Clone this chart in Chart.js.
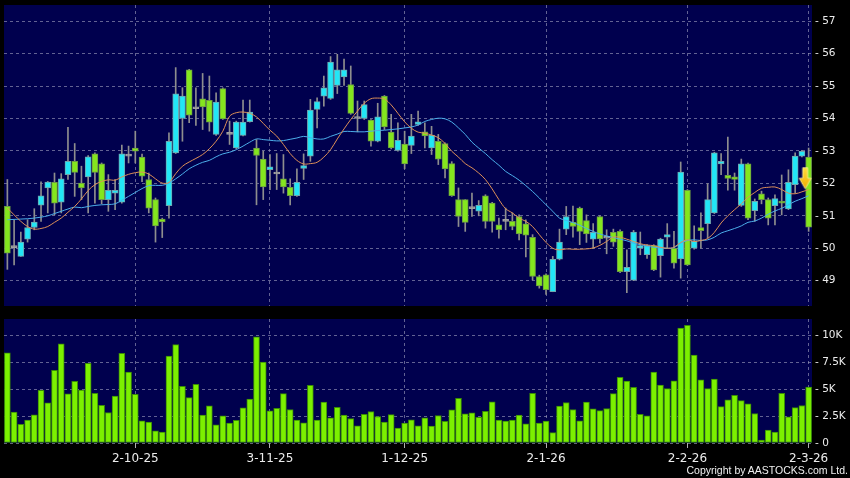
<!DOCTYPE html>
<html>
<head>
<meta charset="utf-8">
<script src="https://cdn.jsdelivr.net/npm/chart.js@4.4.1/dist/chart.umd.min.js"></script>
<style>
  html, body { margin: 0; padding: 0; background: #000; }
  #wrap { position: relative; width: 850px; height: 478px; overflow: hidden; }
  #price { position: absolute; left: 0; top: 0; }
  #volume { position: absolute; left: 0; top: 310px; }
  #copy { position: absolute; right: 2px; top: 464px; color: #f0f0f0;
          font: 10.5px "Liberation Sans", Arial, sans-serif; }
</style>
</head>
<body>
<div id="wrap">
  <canvas id="price" width="850" height="310"></canvas>
  <canvas id="volume" width="850" height="168"></canvas>
  <div id="copy">Copyright by AASTOCKS.com Ltd.</div>
</div>
<script>
// date ticks (bar index -> label)
const tickIndex = [19, 39, 59, 80, 101, 119];
const tickText = ["2-10-25", "3-11-25", "1-12-25", "2-1-26", "2-2-26", "2-3-26"];

const open = [51.29,50.02,49.75,50.28,50.64,51.33,51.86,52.03,51.42,52.27,
  52.68,52.01,52.20,52.91,52.60,51.50,51.70,51.42,52.84,53.09,
  52.81,52.12,51.50,50.90,51.31,52.94,54.00,55.50,54.30,54.61,
  54.56,53.51,54.92,53.51,53.09,53.48,53.90,53.09,52.75,52.42,
  52.29,52.14,51.88,51.62,52.46,52.84,54.28,54.69,54.62,55.02,
  55.28,55.05,54.00,54.00,53.95,53.30,54.69,53.58,53.02,53.21,
  53.17,53.82,53.59,53.09,53.30,53.23,52.61,51.50,51.50,51.22,
  51.14,51.62,51.39,50.72,50.83,50.83,50.98,50.75,50.34,49.13,
  49.18,48.66,49.66,50.59,50.80,51.24,50.85,50.28,50.98,50.31,
  50.49,50.52,49.28,49.02,50.00,49.80,50.08,49.77,50.34,50.00,
  49.67,51.79,50.00,50.64,50.76,51.09,52.60,52.25,52.20,51.32,
  52.60,51.16,51.68,51.50,51.31,51.45,51.21,51.96,52.84,52.81];
const high = [52.12,50.88,50.50,50.88,51.22,52.05,52.06,52.32,52.30,53.73,
  53.23,52.53,52.86,52.94,52.63,52.27,52.12,53.18,53.15,53.61,
  52.90,52.32,51.55,50.93,53.56,55.57,54.95,55.52,54.95,55.39,
  55.31,54.79,54.95,53.92,53.92,54.57,54.57,53.35,52.99,52.89,
  52.92,52.89,52.14,52.45,52.91,54.59,54.64,55.31,55.91,55.98,
  55.83,55.62,54.54,54.54,53.97,54.47,54.71,54.13,53.87,53.61,
  54.13,54.23,53.87,53.76,53.51,53.25,52.67,51.86,51.50,51.70,
  51.47,51.65,51.42,50.93,51.24,51.09,51.03,50.88,50.42,49.17,
  49.21,49.75,50.59,51.29,51.30,51.27,51.03,50.76,51.00,50.57,
  50.59,50.57,49.95,50.55,50.50,50.11,50.11,50.31,50.76,50.52,
  52.66,51.81,50.69,51.09,51.99,52.96,52.92,53.43,52.32,52.75,
  52.63,51.52,51.76,51.55,51.65,52.26,52.42,52.94,53.02,53.09];
const low = [49.35,49.49,49.75,50.19,50.57,50.83,51.09,51.03,51.09,52.12,
  51.60,51.50,51.09,51.39,51.37,51.14,51.19,51.39,52.63,52.63,
  52.05,51.09,50.19,50.33,50.93,52.92,53.30,53.87,53.79,53.66,
  53.61,53.48,53.97,53.20,53.07,53.46,53.89,51.34,51.50,51.81,
  51.81,51.70,51.34,51.60,52.12,52.68,53.71,54.38,54.59,54.77,
  55.02,54.13,53.59,53.97,53.15,53.28,53.66,53.06,52.99,52.45,
  52.92,53.79,53.09,52.89,52.58,52.17,51.60,50.67,50.52,50.98,
  51.00,50.62,50.50,50.31,50.57,50.57,50.26,49.73,49.02,48.77,
  48.58,48.66,49.64,50.42,50.34,50.11,50.18,50.00,50.16,49.83,
  50.06,49.25,48.63,49.00,49.80,49.69,49.31,49.11,50.00,49.39,
  49.08,49.47,49.97,50.00,50.31,51.07,52.27,51.79,51.79,51.29,
  50.88,50.83,51.37,50.72,50.72,51.03,51.19,51.70,52.82,50.52];
const close = [49.85,50.02,50.19,50.64,50.81,51.62,52.04,51.39,52.14,52.68,
  52.34,51.86,52.82,52.34,51.50,51.79,51.79,52.91,52.84,52.99,
  52.22,51.24,50.69,50.81,53.30,54.76,54.69,54.10,54.30,54.36,
  53.89,54.51,53.99,53.51,53.89,53.89,54.20,52.86,51.89,52.51,
  52.29,51.89,51.62,52.03,52.55,54.26,54.52,54.95,55.74,55.50,
  55.50,54.16,54.00,54.43,53.30,54.05,53.74,53.09,53.33,52.60,
  53.46,53.90,53.46,53.49,52.75,52.45,51.62,50.98,50.80,51.22,
  51.32,50.83,50.83,50.57,50.83,50.67,50.44,50.40,49.13,48.84,
  48.72,49.66,50.19,50.98,50.67,50.52,50.44,50.49,50.29,50.31,
  50.19,49.28,49.41,50.50,50.08,50.08,49.33,50.28,50.42,49.54,
  52.35,49.49,50.21,50.54,51.50,52.94,52.68,52.15,52.12,52.60,
  50.93,51.45,51.50,50.93,51.53,51.39,52.03,52.84,52.99,50.65];

// moving averages as drawn on the chart (orange short, blue long)
const maShort = [51.24,51.03,50.83,50.67,50.59,50.61,50.67,50.80,50.93,51.11,
  51.29,51.52,51.78,51.96,52.06,52.11,52.10,52.20,52.28,52.33,
  52.35,52.29,52.14,52.01,52.03,52.30,52.53,52.66,52.77,52.89,
  53.07,53.30,53.61,54.07,54.18,54.20,54.16,54.05,53.85,53.64,
  53.46,53.20,52.92,52.71,52.60,52.61,52.65,52.81,53.04,53.37,
  53.68,53.97,54.23,54.47,54.61,54.63,54.60,54.42,54.16,53.90,
  53.70,53.58,53.55,53.49,53.41,53.23,52.99,52.81,52.61,52.48,
  52.32,52.12,51.83,51.50,51.22,51.09,50.93,50.83,50.67,50.42,
  50.18,50.00,49.95,49.98,49.97,49.97,49.98,50.01,50.09,50.21,
  50.34,50.34,50.28,50.21,50.14,50.10,50.08,50.03,50.00,50.03,
  50.18,50.26,50.21,50.24,50.30,50.49,50.78,51.00,51.19,51.37,
  51.57,51.72,51.85,51.88,51.89,51.81,51.70,51.68,51.74,51.81];
const maLong = [50.88,50.89,50.90,50.91,50.93,50.96,51.00,51.07,51.14,51.21,
  51.27,51.25,51.29,51.32,51.34,51.35,51.37,51.48,51.60,51.72,
  51.84,51.93,51.94,51.94,52.01,52.14,52.29,52.45,52.56,52.65,
  52.71,52.82,52.91,52.96,53.04,53.15,53.27,53.37,53.35,53.33,
  53.31,53.32,53.36,53.40,53.45,53.41,53.37,53.37,53.45,53.52,
  53.60,53.60,53.59,53.59,53.61,53.63,53.64,53.66,53.68,53.71,
  53.74,53.80,53.91,53.97,54.01,53.99,53.89,53.71,53.51,53.27,
  53.09,52.92,52.73,52.56,52.37,52.24,52.10,51.93,51.75,51.55,
  51.34,51.14,50.93,50.86,50.79,50.71,50.61,50.52,50.44,50.38,
  50.33,50.28,50.23,50.16,50.11,50.07,50.03,50.01,50.00,50.02,
  50.16,50.24,50.26,50.24,50.26,50.34,50.47,50.54,50.61,50.69,
  50.80,50.84,50.93,51.05,51.15,51.23,51.34,51.45,51.53,51.62];

// volume in thousands
const volume = [8.39,2.87,1.73,2.13,2.62,4.91,3.73,6.76,9.23,4.57,
  5.74,4.94,7.41,4.63,3.52,2.84,4.38,8.36,6.60,4.54,
  2.07,1.94,1.14,1.02,8.09,9.17,5.28,4.23,5.46,2.59,
  3.46,1.70,2.53,1.85,2.10,3.27,4.10,9.88,7.53,2.99,
  3.24,4.60,3.12,2.13,1.88,5.37,2.13,3.80,2.35,3.33,
  2.59,2.28,1.60,2.68,2.93,2.47,1.94,2.65,1.39,1.85,
  2.16,1.60,2.35,1.57,2.56,2.01,3.09,4.17,2.72,2.81,
  2.38,2.96,3.83,2.13,2.04,2.13,2.59,1.79,4.63,1.85,
  2.04,0.96,3.43,3.77,3.12,2.07,3.80,3.18,3.02,3.21,
  4.60,6.11,5.77,5.18,2.68,2.53,6.60,5.40,5.06,5.80,
  10.71,10.96,8.18,5.89,5.06,5.96,3.39,4.01,4.44,3.95,
  3.64,2.75,0.28,1.20,1.02,4.63,2.44,3.30,3.49,5.22];

// signal arrow on the last session
const arrowIndex = 119;
const arrowPrice = 52.16;

const labels = close.map((_, i) => {
  const k = tickIndex.indexOf(i);
  return k < 0 ? "" : tickText[k];
});

const UP = "#22e6f6", DOWN = "#84e61e", FLAT = "#a0a0a0";
const bodies = close.map((c, i) => [Math.min(open[i], c), Math.max(open[i], c)]);
const wicks = close.map((_, i) => [low[i], high[i]]);
const bodyFill = close.map((c, i) => c > open[i] ? UP : c < open[i] ? DOWN : FLAT);
const bodyEdge = close.map((c, i) => c > open[i] ? "#6fa6ae" : c < open[i] ? "#6c9a44" : "#a0a0a0");
const arrowData = close.map((_, i) => i === arrowIndex ? arrowPrice : null);

// yellow down arrow marker
const arrowImg = document.createElement("canvas");
arrowImg.width = 22; arrowImg.height = 24;
(function () {
  const g = arrowImg.getContext("2d");
  const cx = 7.5;
  const grad = g.createLinearGradient(0, 0, 0, 24);
  grad.addColorStop(0, "#ffe040");
  grad.addColorStop(1, "#f0a800");
  g.beginPath();
  g.moveTo(cx - 2.5, 1.5); g.lineTo(cx + 2.5, 1.5); g.lineTo(cx + 2.5, 12);
  g.lineTo(cx + 6, 12); g.lineTo(cx, 22.5); g.lineTo(cx - 6, 12);
  g.lineTo(cx - 2.5, 12); g.closePath();
  g.fillStyle = grad; g.fill();
  g.strokeStyle = "#fff2a0"; g.lineWidth = 0.8; g.stroke();
})();

const plotBg = {
  id: "plotBg",
  beforeDraw(chart) {
    const { ctx, chartArea: a } = chart;
    ctx.save();
    ctx.fillStyle = "#00004e";
    ctx.fillRect(a.left, a.top, a.right - a.left, a.bottom - a.top);
    ctx.restore();
  }
};

const gridColor = "rgba(150,150,185,0.65)";
const yFont = { family: "DejaVu Sans", size: 10.5 };
const xFont = { family: "DejaVu Sans", size: 12 };
const xGrid = ctx => labels[ctx.index] ? gridColor : "transparent";
const xTick = ctx => labels[ctx.index] ? "#b0b0b0" : "transparent";
const fitY = s => { s.width = 38; s.paddingTop = 0; s.paddingBottom = 0; };
const fitX = h => s => { s.height = h; s.paddingLeft = 0; s.paddingRight = 0; };

new Chart(document.getElementById("price"), {
  type: "bar",
  data: {
    labels: labels,
    datasets: [
      { type: "line", label: "arrow", data: arrowData, pointStyle: arrowImg, pointRadius: 10,
        showLine: false, order: -1 },
      { type: "line", label: "MA short", data: maShort, borderColor: "#de9058", borderWidth: 1,
        pointRadius: 0, tension: 0.35, order: 0 },
      { type: "line", label: "MA long", data: maLong, borderColor: "#4caeea", borderWidth: 1,
        pointRadius: 0, tension: 0.35, order: 0 },
      { label: "body", data: bodies, backgroundColor: bodyFill, borderColor: bodyEdge, borderWidth: 1,
        borderSkipped: false, barThickness: 6, minBarLength: 2, grouped: false, order: 1 },
      { label: "wick", data: wicks, backgroundColor: "#8e8e8e", barThickness: 1, grouped: false, order: 2 }
    ]
  },
  options: {
    responsive: false,
    animation: false,
    layout: { autoPadding: false, padding: { left: 4, top: 5, right: 0, bottom: 4 } },
    plugins: { legend: { display: false }, tooltip: { enabled: false } },
    scales: {
      x: {
        ticks: { display: false, autoSkip: false },
        grid: { color: xGrid, offset: false, drawTicks: false },
        border: { display: false, dash: [3, 3] },
        afterFit: fitX(0)
      },
      y: {
        position: "right",
        min: 48.22, max: 57.5,
        ticks: { stepSize: 1, includeBounds: false, color: "#ececec", font: yFont, padding: 3,
                 callback: v => "- " + v },
        grid: { color: gridColor, drawTicks: false },
        border: { display: false, dash: [3, 3] },
        afterFit: fitY
      }
    }
  },
  plugins: [plotBg]
});

new Chart(document.getElementById("volume"), {
  type: "bar",
  data: {
    labels: labels,
    datasets: [
      { label: "Volume", data: volume, backgroundColor: "#7cf000", borderColor: "#3a8c06",
        borderWidth: 1, borderSkipped: false, barThickness: 6 }
    ]
  },
  options: {
    responsive: false,
    animation: false,
    layout: { autoPadding: false, padding: { left: 4, top: 9, right: 0, bottom: 0 } },
    plugins: { legend: { display: false }, tooltip: { enabled: false } },
    scales: {
      x: {
        ticks: { autoSkip: false, maxRotation: 0, color: "#ececec", font: xFont, padding: 4,
                 callback: (v, i) => labels[i] },
        grid: { color: xGrid, offset: false, tickLength: 5, tickColor: xTick },
        border: { display: false, dash: [3, 3] },
        afterFit: fitX(35)
      },
      y: {
        position: "right",
        min: 0, max: 11.55,
        ticks: { stepSize: 2.5, includeBounds: false, color: "#ececec", font: yFont, padding: 3,
                 callback: v => "- " + (v === 0 ? "0" : v + "K") },
        grid: { color: gridColor, drawTicks: false },
        border: { display: false, dash: [3, 3] },
        afterFit: fitY
      }
    }
  },
  plugins: [plotBg]
});
</script>
</body>
</html>
